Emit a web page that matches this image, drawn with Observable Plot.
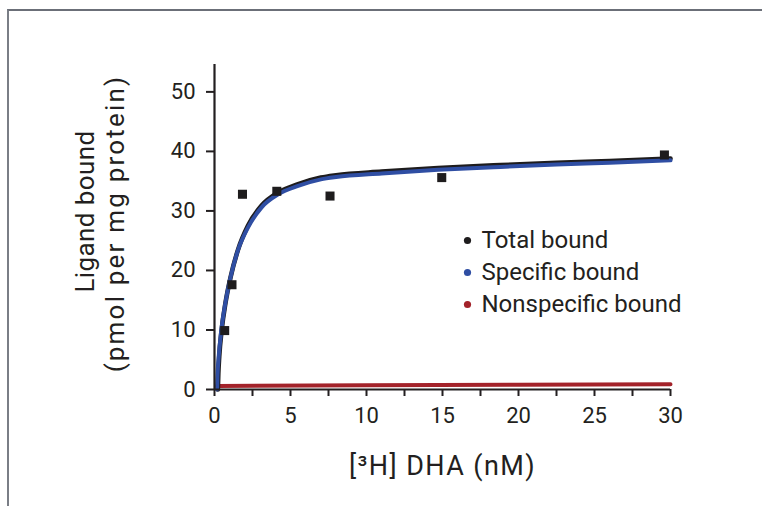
<!DOCTYPE html>
<html>
<head>
<meta charset="utf-8">
<script src="https://cdn.jsdelivr.net/npm/d3@7"></script>
<script src="https://cdn.jsdelivr.net/npm/@observablehq/plot@0.6"></script>
<style>
  html, body { margin: 0; padding: 0; background: #fff; }
  #wrap { position: relative; width: 762px; height: 506px; overflow: hidden; }
  #border { position: absolute; left: 7px; top: 9px; width: 760px; height: 510px;
            border-top: 2px solid #6b6f78; border-left: 2px solid #7a7e86; }
  svg { position: absolute; left: 0; top: 0; }
</style>
</head>
<body>
<div id="wrap"><div id="border"></div></div>
<script>
// Observed total binding (squares)
const concentration = [0.67, 1.15, 1.84, 4.1, 7.6, 14.95, 29.6];
const totalObserved = [9.9, 17.6, 32.8, 33.3, 32.5, 35.6, 39.4];

// Fitted curves
const specificX = [0.17, 0.2, 0.27, 0.44, 0.7, 1.05, 1.53, 2.2, 3.1, 4.2, 5.5, 7.0, 8.0, 11, 14.7, 18.8, 22.5, 26, 30];
const specificY = [0, 2.5, 5.3, 9.8, 14.3, 18.8, 23.3, 27.2, 30.6, 32.8, 34.2, 35.3, 35.7, 36.3, 36.9, 37.4, 37.8, 38.1, 38.5];
const totalX    = [0.22, 0.25, 0.31, 0.47, 0.72, 1.07, 1.55, 2.2, 3.1, 4.2, 5.5, 7.0, 8.0, 11, 14.7, 18.8, 22.5, 26, 30];
const totalY    = [0, 2.6, 5.5, 10.0, 14.5, 19.0, 23.5, 27.5, 30.9, 33.1, 34.5, 35.6, 36.0, 36.6, 37.2, 37.7, 38.1, 38.4, 38.8];
const nonspecX  = [0.18, 10, 20, 30];
const nonspecY  = [0.6, 0.7, 0.8, 0.9];

const legendLabels = ["Total bound", "Specific bound", "Nonspecific bound"];
const legendColors = ["#1e1c1d", "#2f4ea3", "#a3222a"];

const xTicks = [0, 2.5, 5, 7.5, 10, 12.5, 15, 17.5, 20, 22.5, 25, 27.5, 30];
const yTicks = [0, 10, 20, 30, 40, 50];
const xLabel = "[³H] DHA (nM)";
const yLabel1 = "Ligand bound";
const yLabel2 = "(pmol per mg protein)";

const ink = "#231f20";
const font = "Roboto, 'Noto Sans', sans-serif";

const points = concentration.map((x, i) => ({x, y: totalObserved[i]}));
const total = totalX.map((x, i) => ({x, y: totalY[i]}));
const specific = specificX.map((x, i) => ({x, y: specificY[i]}));
const nonspec = nonspecX.map((x, i) => ({x, y: nonspecY[i]}));

const legendMarks = legendLabels.flatMap((label, i) => [
  Plot.dot([label], {frameAnchor: "top-left", dx: 253, dy: 176 + i * 32, r: 3.6, fill: legendColors[i], stroke: "none"}),
  Plot.text([label], {frameAnchor: "top-left", dx: 267, dy: 176 + i * 32, text: d => d, textAnchor: "start", lineAnchor: "middle", fontSize: 24, fill: ink})
]);

const chart = Plot.plot({
  width: 762,
  height: 506,
  marginLeft: 214,
  marginRight: 92,
  marginTop: 64,
  marginBottom: 117,
  style: {fontFamily: font, color: ink, background: "transparent", overflow: "visible"},
  x: {domain: [0, 30]},
  y: {domain: [0, 54.6]},
  marks: [
    Plot.axisX({ticks: xTicks, tickSize: 7, tickPadding: 11, tickFormat: d => d % 5 === 0 ? String(d) : "", fontSize: 22, strokeWidth: 2, stroke: ink, fill: ink, label: null}),
    Plot.axisY({ticks: yTicks, tickSize: 8, tickPadding: 11, fontSize: 22, strokeWidth: 2, stroke: ink, fill: ink, label: null}),
    Plot.line(nonspec, {x: "x", y: "y", stroke: "#a3222a", strokeWidth: 4}),
    Plot.line(total, {x: "x", y: "y", stroke: "#1e1c1d", strokeWidth: 4.6, curve: "monotone-x"}),
    Plot.line(specific, {x: "x", y: "y", stroke: "#2f4ea3", strokeWidth: 4, curve: "monotone-x"}),
    Plot.ruleX([0], {stroke: ink, strokeWidth: 2.2}),
    Plot.ruleY([0], {stroke: ink, strokeWidth: 2.2}),
    Plot.dot(points, {x: "x", y: "y", symbol: "square", r: 5.1, fill: "#1e1c1d", stroke: "none"}),
    ...legendMarks,
    Plot.text([xLabel], {frameAnchor: "bottom", dy: 77, text: d => d, lineAnchor: "middle", textAnchor: "middle", fontSize: 27, fill: ink}),
    Plot.text([yLabel1], {frameAnchor: "left", dx: -129, dy: -15.5, rotate: -90, text: d => d, lineAnchor: "middle", textAnchor: "middle", fontSize: 26, fill: ink}),
    Plot.text([yLabel2], {frameAnchor: "left", dx: -99, dy: -3.5, rotate: -90, text: d => d, lineAnchor: "middle", textAnchor: "middle", fontSize: 26, fill: ink})
  ]
});
// widen the label lettering to match the reference typeface's width
const spacing = new Map([[xLabel, "1.4px"], [yLabel1, "0.4px"], [yLabel2, "2.2px"]]);
d3.select(chart).selectAll("text").each(function() {
  const s = spacing.get(this.textContent);
  if (s) this.setAttribute("letter-spacing", s);
});
document.getElementById("wrap").appendChild(chart);
</script>
</body>
</html>
